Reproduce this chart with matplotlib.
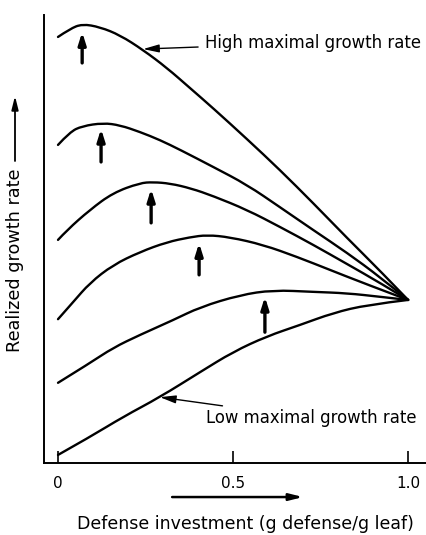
import numpy as np
import matplotlib
matplotlib.use("Agg")
import matplotlib.pyplot as plt
from matplotlib.path import Path
from matplotlib.patches import PathPatch

plt.rcParams['font.family'] = ['DejaVu Sans']

# curves, from the highest maximal growth rate down to the lowest
c1_x = [0, 0.034, 0.069, 0.12, 0.177, 0.243, 0.311, 0.377, 0.443, 0.54, 0.634, 0.729, 0.826, 0.92, 1.0]
c1_y = [0.951, 0.969, 0.980, 0.973, 0.955, 0.922, 0.882, 0.837, 0.792, 0.723, 0.654, 0.580, 0.502, 0.429, 0.364]

c2_x = [0, 0.034, 0.069, 0.129, 0.177, 0.234, 0.291, 0.349, 0.443, 0.54, 0.634, 0.729, 0.826, 0.92, 1.0]
c2_y = [0.710, 0.739, 0.752, 0.759, 0.754, 0.739, 0.721, 0.699, 0.661, 0.621, 0.571, 0.520, 0.469, 0.415, 0.364]

c3_x = [0, 0.026, 0.091, 0.157, 0.234, 0.271, 0.32, 0.38, 0.443, 0.54, 0.634, 0.729, 0.826, 0.92, 1.0]
c3_y = [0.498, 0.520, 0.565, 0.603, 0.625, 0.627, 0.624, 0.613, 0.596, 0.565, 0.527, 0.487, 0.444, 0.402, 0.364]

c4_x = [0, 0.043, 0.091, 0.157, 0.234, 0.311, 0.377, 0.426, 0.491, 0.586, 0.683, 0.777, 0.871, 1.0]
c4_y = [0.321, 0.359, 0.402, 0.442, 0.471, 0.493, 0.504, 0.509, 0.504, 0.487, 0.460, 0.431, 0.402, 0.364]

c5_x = [0, 0.091, 0.157, 0.234, 0.329, 0.406, 0.52, 0.614, 0.729, 0.826, 0.92, 1.0]
c5_y = [0.179, 0.223, 0.257, 0.286, 0.319, 0.348, 0.375, 0.386, 0.382, 0.379, 0.371, 0.364]

c6_x = [0, 0.091, 0.186, 0.291, 0.406, 0.5, 0.597, 0.691, 0.786, 0.883, 1.0]
c6_y = [0.018, 0.058, 0.103, 0.147, 0.203, 0.248, 0.283, 0.308, 0.335, 0.353, 0.364]

curves = [(c1_x, c1_y), (c2_x, c2_y), (c3_x, c3_y), (c4_x, c4_y), (c5_x, c5_y), (c6_x, c6_y)]

# optimum arrows: x, tail y, tip y
opt_x = [0.069, 0.123, 0.266, 0.403, 0.591]
opt_tail = [0.893, 0.672, 0.536, 0.420, 0.292]
opt_tip = [0.962, 0.746, 0.612, 0.491, 0.371]

tick_pos = [0, 0.5, 1.0]
tick_lab = ['0', '0.5', '1.0']


def smooth_path(xs, ys):
    # quadratic bezier through midpoints, so the curve stays smooth
    pts = list(zip(xs, ys))
    verts = [pts[0]]
    codes = [Path.MOVETO]
    for i in range(1, len(pts) - 2):
        mid = ((pts[i][0] + pts[i + 1][0]) / 2, (pts[i][1] + pts[i + 1][1]) / 2)
        verts += [pts[i], mid]
        codes += [Path.CURVE3, Path.CURVE3]
    verts += [pts[-2], pts[-1]]
    codes += [Path.CURVE3, Path.CURVE3]
    return Path(verts, codes)


fig = plt.figure(figsize=(4.27, 5.35), dpi=100)
ax = fig.add_axes([44 / 427, 72 / 535, 383 / 427, 448 / 535])
ax.set_xlim(-0.04, 1.054)
ax.set_ylim(0, 1)

for xs, ys in curves:
    ax.add_patch(PathPatch(smooth_path(xs, ys), fill=False, lw=1.7, color='black',
                           capstyle='round', joinstyle='round'))

for x, t0, t1 in zip(opt_x, opt_tail, opt_tip):
    ax.annotate('', xy=(x, t1), xytext=(x, t0),
                arrowprops=dict(arrowstyle='-|>,head_width=0.22,head_length=0.7',
                                lw=2.4, color='black', shrinkA=0, shrinkB=0))

ax.annotate('High maximal growth rate', xy=(0.243, 0.924), xytext=(0.42, 0.938),
            fontsize=11.9, va='center', ha='left',
            arrowprops=dict(arrowstyle='-|>,head_width=0.2,head_length=0.8',
                            lw=1.0, color='black', shrinkA=3, shrinkB=0))
ax.annotate('Low maximal growth rate', xy=(0.291, 0.147), xytext=(0.423, 0.100),
            fontsize=11.9, va='center', ha='left',
            arrowprops=dict(arrowstyle='-|>,head_width=0.2,head_length=0.8',
                            lw=1.0, color='black', shrinkA=3, shrinkB=0))

# arrow under the x axis
ax.annotate('', xy=(0.70, -0.076), xytext=(0.326, -0.076), annotation_clip=False,
            arrowprops=dict(arrowstyle='-|>,head_width=0.2,head_length=0.8',
                            lw=1.8, color='black', shrinkA=0, shrinkB=0))

for s in ['top', 'right']:
    ax.spines[s].set_visible(False)
for s in ['left', 'bottom']:
    ax.spines[s].set_linewidth(1.4)

ax.set_xticks(tick_pos)
ax.set_xticklabels(tick_lab, fontsize=11)
ax.tick_params(axis='x', direction='in', length=9, width=1.2, pad=9)
ax.set_yticks([])

fig.text(245 / 427, 1 - 524 / 535, 'Defense investment (g defense/g leaf)',
         fontsize=12.5, ha='center', va='center')
fig.text(15 / 427, 1 - 260 / 535, 'Realized growth rate', rotation=90,
         fontsize=12.7, ha='center', va='center')
ax_arrow = fig.add_axes([0, 0, 1, 1], facecolor='none')
ax_arrow.axis('off')
ax_arrow.set_xlim(0, 427)
ax_arrow.set_ylim(535, 0)
ax_arrow.annotate('', xy=(15, 96), xytext=(15, 161),
                  arrowprops=dict(arrowstyle='-|>,head_width=0.2,head_length=0.8',
                                  lw=1.3, color='black', shrinkA=0, shrinkB=0))

fig.savefig('out.png', dpi=100)
